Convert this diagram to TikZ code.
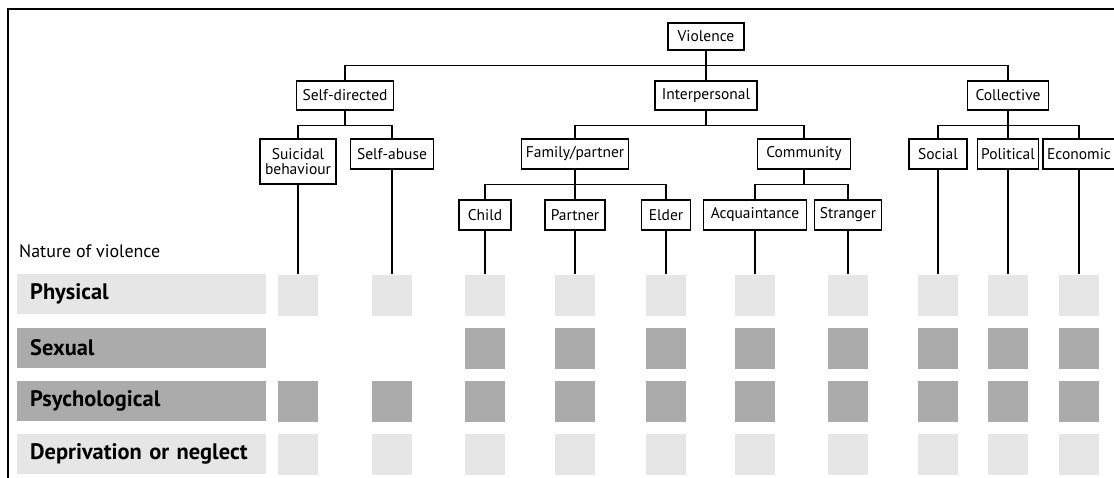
\documentclass[tikz,border=0pt]{standalone}
\usepackage{fontspec}
\setmainfont{PT Sans}
\usepackage{tikz}
\usetikzlibrary{arrows.meta}
\definecolor{lightcell}{HTML}{E6E6E6}
\definecolor{darkcell}{HTML}{ABABAB}
\newcommand{\treefont}{\fontsize{15.5}{14.5}\selectfont}
\newcommand{\rowfont}{\fontsize{22.4}{24}\selectfont\bfseries}
\newcommand{\headfont}{\fontsize{18}{18}\selectfont}
\tikzset{>=latex}
\tikzstyle{box} = [rectangle, draw=black, line width=1.1pt, inner sep=0pt, minimum height=30, align=center, font=\treefont]
\tikzstyle{link} = [-, draw=black, line width=1.1pt]
\tikzstyle{cell} = [rectangle, fill=lightcell, inner sep=0pt, minimum width=40, minimum height=41]
\tikzstyle{darkcellbox} = [cell, fill=darkcell]
\tikzstyle{bar} = [rectangle, inner xsep=13, inner ysep=0pt, minimum height=40, text width=223, align=left, font=\rowfont, anchor=west]

\begin{document}
\begin{tikzpicture}[x=1pt, y=-1pt]
\useasboundingbox (0,0) rectangle (1114,477);
\fill [white] (0,0) rectangle (1114,477);
\draw [line width=1.3pt] (8,490) |- (1130,9);
% tree of types
\node [box, minimum width=76, minimum height=27] (V) at (706,36.5) {Violence};
\node [box, minimum width=97, minimum height=29] (SD) at (345,95.5) {Self-directed};
\node [box, minimum width=102, minimum height=29] (IP) at (706,95.5) {Interpersonal};
\node [box, minimum width=81, minimum height=29] (CO) at (1008,95.5) {Collective};
\node [box, minimum width=76, minimum height=45] (SU) at (298,161.5) {Suicidal\\behaviour};
\node [box, minimum width=83] (SA) at (392,154) {Self-abuse};
\node [box, minimum width=107] (FP) at (575,154) {Family/partner};
\node [box, minimum width=93] (CM) at (804,154) {Community};
\node [box, minimum width=58] (SO) at (938,154) {Social};
\node [box, minimum width=61] (PO) at (1008,154) {Political};
\node [box, minimum width=72] (EC) at (1079,154) {Economic};
\node [box, minimum width=52] (CH) at (485,215) {Child};
\node [box, minimum width=60] (PA) at (575,215) {Partner};
\node [box, minimum width=49] (EL) at (666,215) {Elder};
\node [box, minimum width=103] (AQ) at (755,215) {Acquaintance};
\node [box, minimum width=67] (ST) at (848,215) {Stranger};
\draw [link] (V.south) -- ++(0,15) -| (SD.north);
\draw [link] (V.south) -- ++(0,15) -| (IP.north);
\draw [link] (V.south) -- ++(0,15) -| (CO.north);
\draw [link] (SD.south) -- ++(0,15) -| (SU.north);
\draw [link] (SD.south) -- ++(0,15) -| (SA.north);
\draw [link] (IP.south) -- ++(0,15) -| (FP.north);
\draw [link] (IP.south) -- ++(0,15) -| (CM.north);
\draw [link] (CO.south) -- ++(0,15) -| (SO.north);
\draw [link] (CO.south) -- ++(0,15) -| (PO.north);
\draw [link] (CO.south) -- ++(0,15) -| (EC.north);
\draw [link] (FP.south) -- ++(0,15) -| (CH.north);
\draw [link] (FP.south) -- ++(0,15) -| (PA.north);
\draw [link] (FP.south) -- ++(0,15) -| (EL.north);
\draw [link] (CM.south) -- ++(0,15) -| (AQ.north);
\draw [link] (CM.south) -- ++(0,15) -| (ST.north);
% nature of violence
\node [anchor=base west, inner sep=0pt, font=\headfont] (nat) at (19,257) {Nature of violence};
\node [bar, fill=lightcell] (phys) at (17,294) {Physical};
\node [bar, fill=darkcell] (sex) at (17,348) {Sexual};
\node [bar, fill=darkcell] (psy) at (17,401) {Psychological};
\node [bar, fill=lightcell] (dep) at (17,454) {Deprivation or neglect};
\foreach \x [count=\i] in {298,392,485,575,666,755,848,938,1008,1079} {
  \node [cell] (p\i) at (\x,295) {};
  \ifnum\i>2 \node [darkcellbox] (s\i) at (\x,348) {}; \fi
  \node [darkcellbox] (y\i) at (\x,401) {};
  \node [cell] (d\i) at (\x,454) {};
}
\draw [link] (SU.south) -- (p1.north);
\draw [link] (SA.south) -- (p2.north);
\draw [link] (CH.south) -- (p3.north);
\draw [link] (PA.south) -- (p4.north);
\draw [link] (EL.south) -- (p5.north);
\draw [link] (AQ.south) -- (p6.north);
\draw [link] (ST.south) -- (p7.north);
\draw [link] (SO.south) -- (p8.north);
\draw [link] (PO.south) -- (p9.north);
\draw [link] (EC.south) -- (p10.north);
\end{tikzpicture}
\end{document}
